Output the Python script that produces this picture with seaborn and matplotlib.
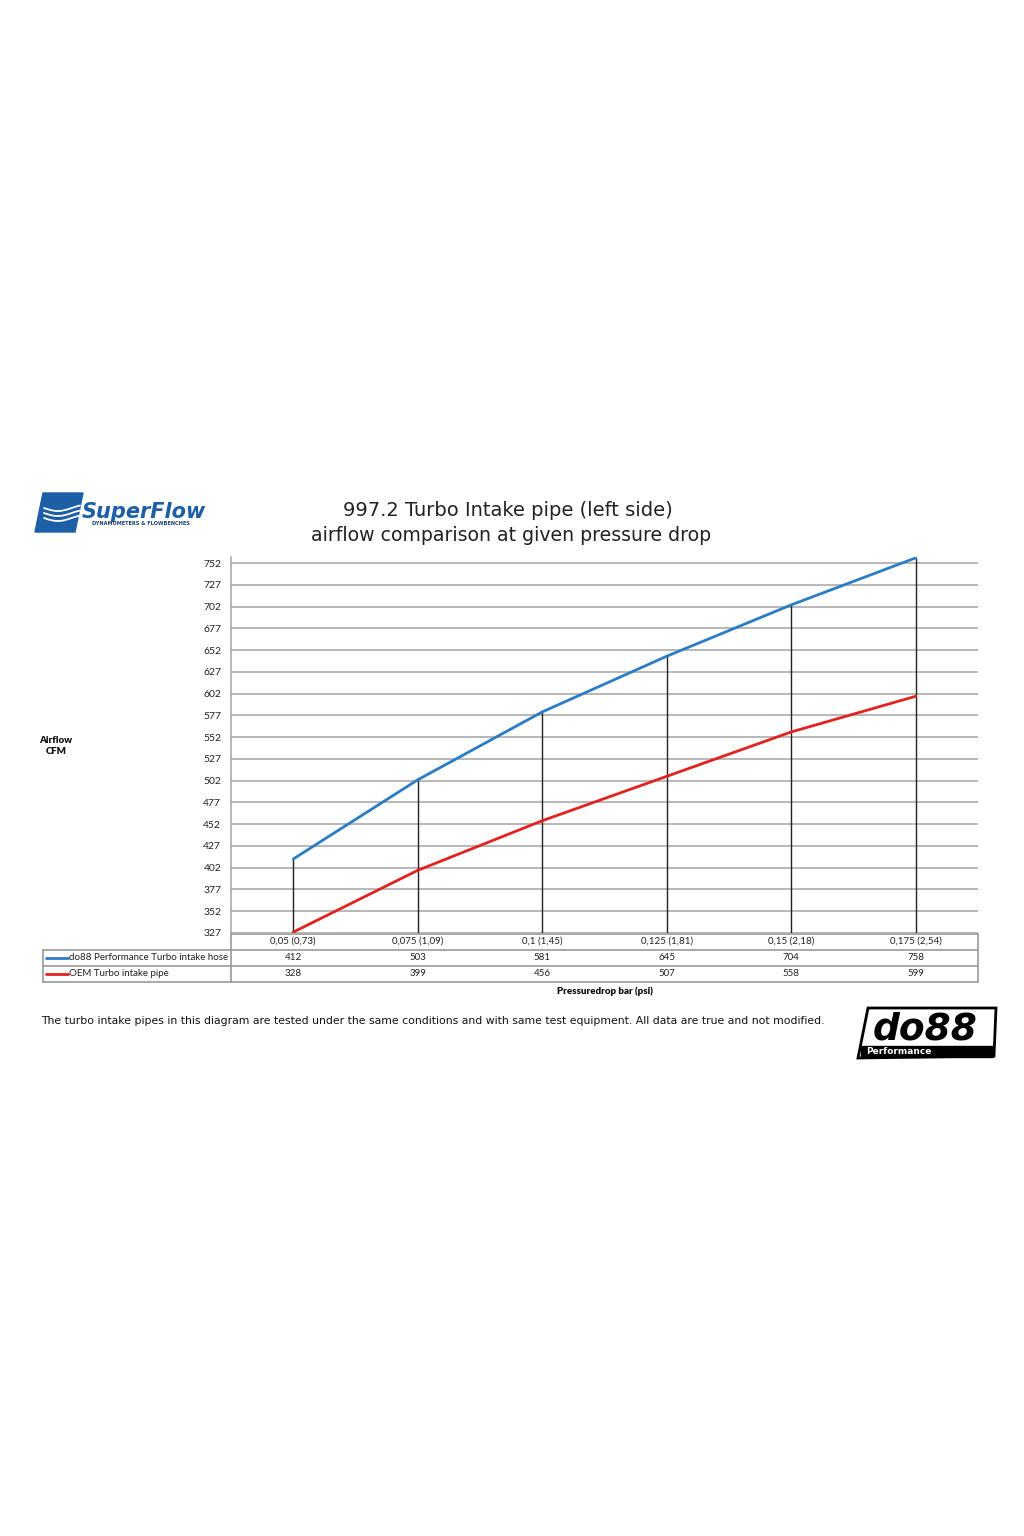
import numpy as np
import pandas as pd
import seaborn as sns
import matplotlib.pyplot as plt
from matplotlib.patches import Polygon, Rectangle

categories = ['0,05 (0,73)', '0,075 (1,09)', '0,1 (1,45)', '0,125 (1,81)', '0,15 (2,18)', '0,175 (2,54)']
do88_values = [412, 503, 581, 645, 704, 758]
oem_values = [328, 399, 456, 507, 558, 599]
series_names = ['do88 Performance Turbo intake hose', 'OEM Turbo intake pipe']
y_ticks = [327, 352, 377, 402, 427, 452, 477, 502, 527, 552, 577, 602, 627, 652, 677, 702, 727, 752]

BLUE = '#2a7cc7'
RED = '#e3211f'
GRID = '#ababab'

sns.set_style('white')
plt.rcParams['font.family'] = ['Lato', 'DejaVu Sans']

df = pd.DataFrame({
    'x': list(range(len(categories))) * 2,
    'airflow': do88_values + oem_values,
    'series': [series_names[0]] * len(categories) + [series_names[1]] * len(categories),
})

fig = plt.figure(figsize=(10.24, 15.36), dpi=100)
W, H = 1024, 1536


def fx(px):
    return px / W


def fy(py):
    return 1 - py / H


# main plot area in pixel coordinates of the reference
left, right, top, bottom = 231, 978, 557, 933
ax = fig.add_axes([fx(left), fy(bottom), fx(right - left), (bottom - top) / H])

for t in y_ticks:
    ax.axhline(t, color=GRID, lw=1.2, zorder=1)

# drop lines from the upper series
ax.vlines(range(len(categories)), y_ticks[0], do88_values, color='#222222', lw=1.0, zorder=2)

sns.lineplot(data=df, x='x', y='airflow', hue='series', palette=[BLUE, RED],
             lw=2.0, legend=False, ax=ax, zorder=3)

ax.set_xlim(-0.5, len(categories) - 0.5)
ax.set_ylim(327, 759)
ax.set_yticks(y_ticks)
ax.set_yticklabels([str(t) for t in y_ticks], fontsize=7.5, color='#222222')
ax.set_xticks([])
ax.set_xlabel('')
ax.set_ylabel('')
ax.tick_params(axis='y', length=4, width=1, color=GRID, pad=3, direction='out')
for side in ['top', 'right', 'bottom']:
    ax.spines[side].set_visible(False)
ax.spines['left'].set_color(GRID)
ax.spines['left'].set_linewidth(1.2)

# data table below the chart
tcol = '#9a9a9a'
def hline(py, x0, x1):
    fig.add_artist(plt.Line2D([fx(x0), fx(x1)], [fy(py), fy(py)], color=tcol, lw=1.2))


def vline(px, y0, y1):
    fig.add_artist(plt.Line2D([fx(px), fx(px)], [fy(y0), fy(y1)], color=tcol, lw=1.2))


hline(934, left, right)
hline(950, 43, right)
hline(966, 43, right)
hline(982, 43, right)
vline(43, 950, 982)
vline(left, 934, 982)
vline(right, 934, 982)

xt = ax.get_xaxis_transform()
ax_h = bottom - top
def ay(py):
    return (bottom - py) / ax_h


for i, c in enumerate(categories):
    ax.text(i, ay(941.5), c, transform=xt, ha='center', va='center', fontsize=7, color='#222222', clip_on=False)
    ax.text(i, ay(957.5), str(do88_values[i]), transform=xt, ha='center', va='center', fontsize=7, color='#222222', clip_on=False)
    ax.text(i, ay(973.5), str(oem_values[i]), transform=xt, ha='center', va='center', fontsize=7, color='#222222', clip_on=False)

for row_y, name, col in [(958, series_names[0], BLUE), (974, series_names[1], RED)]:
    fig.add_artist(plt.Line2D([fx(46), fx(68)], [fy(row_y), fy(row_y)], color=col, lw=2))
    fig.text(fx(69), fy(row_y - 0.5), name, ha='left', va='center', fontsize=7, color='#222222')

fig.text(fx(605), fy(991), 'Pressuredrop bar (psi)', ha='center', va='center', fontsize=7, fontweight='heavy', color='#111111')
fig.text(fx(56), fy(746), 'Airflow\nCFM', ha='center', va='center', fontsize=7, fontweight='heavy', color='#111111', linespacing=1.3)

# titles and footnote
fig.text(fx(508), fy(511), '997.2 Turbo Intake pipe (left side)', ha='center', va='center',
         fontsize=14, family='DejaVu Sans', color='#222222')
fig.text(fx(511), fy(535), 'airflow comparison at given pressure drop', ha='center', va='center',
         fontsize=13.6, family='DejaVu Sans', color='#222222')
fig.text(fx(41), fy(1021), 'The turbo intake pipes in this diagram are tested under the same conditions and with same test equipment. All data are true and not modified.',
         ha='left', va='center', fontsize=7.8, family='DejaVu Sans', color='#111111')

# SuperFlow logo
sf_blue = '#1d5fa6'
fig.add_artist(Polygon([(fx(43), fy(493)), (fx(83), fy(493)), (fx(75), fy(532)), (fx(35), fy(532))],
                       closed=True, color=sf_blue, transform=fig.transFigure))
for k in range(3):
    xs = np.linspace(44, 80, 30)
    ys = 508 + k * 5 + 3 * np.sin((xs - 44) / 36 * np.pi * 1.3)
    fig.add_artist(plt.Line2D(fx(xs), fy(ys), color='white', lw=1.3))
fig.text(fx(82), fy(512), 'SuperFlow', ha='left', va='center', fontsize=15, fontweight='bold',
         style='italic', color=sf_blue, family='DejaVu Sans')
fig.text(fx(92), fy(524), 'DYNAMOMETERS & FLOWBENCHES', ha='left', va='center', fontsize=3.6,
         fontweight='bold', color='#1a3f70', family='DejaVu Sans')

# do88 logo
fig.add_artist(Polygon([(fx(868), fy(1008)), (fx(996), fy(1008)), (fx(994), fy(1056)), (fx(858), fy(1058))],
                       closed=True, fill=False, edgecolor='black', lw=2, transform=fig.transFigure))
fig.add_artist(Rectangle((fx(861), fy(1057)), fx(132), 11 / H, color='black', transform=fig.transFigure))
fig.text(fx(925), fy(1029), 'do88', ha='center', va='center', fontsize=27, fontweight='heavy',
         style='italic', color='black', family='DejaVu Sans')
fig.text(fx(866), fy(1051), 'Performance', ha='left', va='center', fontsize=6.5, fontweight='bold',
         color='white', family='DejaVu Sans')

fig.savefig('out.png', dpi=100, facecolor='white')
